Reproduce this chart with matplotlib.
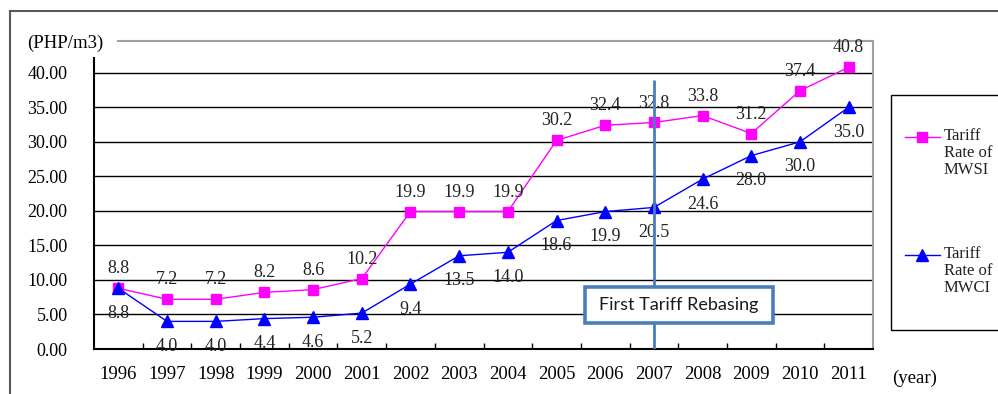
import matplotlib
matplotlib.use("Agg")
import matplotlib.pyplot as plt
from matplotlib.lines import Line2D
from matplotlib.patches import Rectangle

years = ["1996", "1997", "1998", "1999", "2000", "2001", "2002", "2003",
         "2004", "2005", "2006", "2007", "2008", "2009", "2010", "2011"]
mwsi = [8.8, 7.2, 7.2, 8.2, 8.6, 10.2, 19.9, 19.9, 19.9, 30.2, 32.4, 32.8,
        33.8, 31.2, 37.4, 40.8]
mwci = [8.8, 4.0, 4.0, 4.4, 4.6, 5.2, 9.4, 13.5, 14.0, 18.6, 19.9, 20.5,
        24.6, 28.0, 30.0, 35.0]
series_names = ["Tariff\nRate of\nMWSI", "Tariff\nRate of\nMWCI"]
yticks = [0, 5, 10, 15, 20, 25, 30, 35, 40]
rebasing_year = "2007"
rebasing_label = "First Tariff Rebasing"

SERIF = "Liberation Serif"
W, H = 998, 394
fig = plt.figure(figsize=(W / 100, H / 100), dpi=100)


def fx(px):
    return px / W


def fy(py):
    return 1 - py / H


ax = fig.add_axes([fx(94), fy(349), fx(873) - fx(94), fy(41) - fy(349)])
x = list(range(len(years)))
ax.set_xlim(-0.5, len(years) - 0.5)
ax.set_ylim(0, 44.6)

# horizontal gridlines
for v in yticks[1:]:
    ax.axhline(v, color="black", lw=1.0, zorder=1)

ax.plot(x, mwsi, color="#FF00FF", lw=1.0, marker="s", ms=7.5,
        markeredgecolor="#FF00FF", zorder=3)
ax.plot(x, mwci, color="#0000FF", lw=1.0, marker="^", ms=8,
        markeredgecolor="#0000FF", zorder=3)

for xi, v in zip(x, mwsi):
    ax.annotate(f"{v:.1f}", (xi, v), xytext=(0, 14), textcoords="offset points",
                ha="center", va="center", fontsize=13, family=SERIF,
                color="#222222", zorder=4)
for xi, v in zip(x, mwci):
    ax.annotate(f"{v:.1f}", (xi, v), xytext=(0, -18), textcoords="offset points",
                ha="center", va="center", fontsize=13, family=SERIF,
                color="#222222", zorder=4)

# rebasing marker and its callout
ri = years.index(rebasing_year)
ax.vlines(ri, 0, 39, color="#4A7EBB", lw=2, zorder=5)
ax.add_patch(Rectangle((9.59, 3.77), 3.85, 5.2, facecolor="white",
                       edgecolor="#4A7EBB", lw=2.6, zorder=6))
ax.text(11.51, 6.4, rebasing_label, ha="center", va="center", fontsize=13,
        family="Lato", color="#1a1a1a", zorder=7)

# axes styling
ax.spines["left"].set_bounds(0, 42.1)
ax.spines["left"].set_linewidth(1.5)
ax.spines["bottom"].set_linewidth(1.5)
ax.spines["top"].set_bounds(0, len(years) - 0.5)
ax.spines["top"].set_color("#A0A0A0")
ax.spines["top"].set_linewidth(1.5)
ax.spines["right"].set_color("#A0A0A0")
ax.spines["right"].set_linewidth(1.5)

ax.set_yticks(yticks)
ax.set_yticklabels([f"{v:.2f}" for v in yticks], family=SERIF, fontsize=13)
ax.tick_params(axis="y", length=0, pad=19)
ax.set_xticks(x)
ax.set_xticklabels(years, family=SERIF, fontsize=13.5)
ax.tick_params(axis="x", which="major", length=0, pad=12)
ax.set_xticks([i + 0.5 for i in x[:-1]], minor=True)
ax.tick_params(axis="x", which="minor", direction="in", length=4, width=1)

fig.text(fx(65), fy(43), "(PHP/m3)", ha="center", va="center",
         family=SERIF, fontsize=13.5)
fig.text(fx(915), fy(378), "(year)", ha="center", va="center",
         family=SERIF, fontsize=13.5)

# outer frame
fig.add_artist(Line2D([fx(10), fx(10)], [fy(11), 0], color="#595959", lw=1.5))
fig.add_artist(Line2D([fx(10), 1], [fy(11), fy(11)], color="#595959", lw=1.5))

# legend
fig.add_artist(Rectangle((fx(891), fy(330)), fx(1010) - fx(891), fy(95) - fy(330),
                         transform=fig.transFigure, facecolor="white",
                         edgecolor="black", lw=1.0))
for (yy, col, mk, ms), name in zip([(137, "#FF00FF", "s", 7.5),
                                    (255, "#0000FF", "^", 8)], series_names):
    fig.add_artist(Line2D([fx(905), fx(940)], [fy(yy), fy(yy)], color=col, lw=1.0))
    fig.add_artist(Line2D([fx(922)], [fy(yy)], color=col, marker=mk, ms=ms,
                          markeredgecolor=col))
    fig.text(fx(944), fy(yy - 9), name, ha="left", va="top", family=SERIF,
             fontsize=12, linespacing=1.1, color="#222222")

fig.savefig("out.png", dpi=100)
